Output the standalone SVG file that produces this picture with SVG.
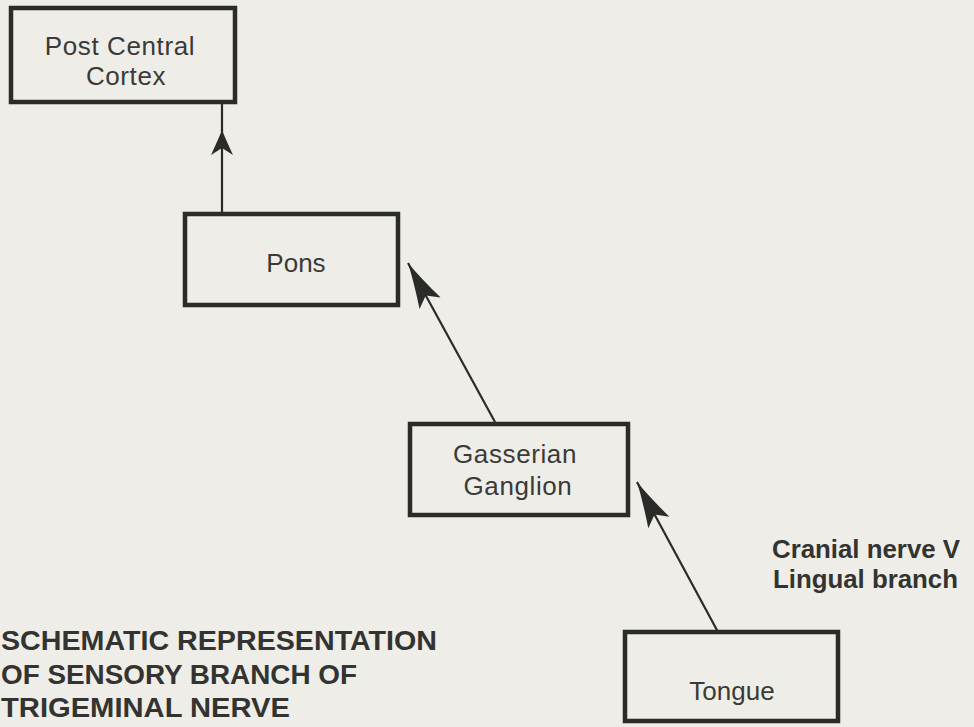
<svg xmlns="http://www.w3.org/2000/svg" width="974" height="727" viewBox="0 0 974 727">
<defs>
<style>
.box{fill:none;stroke:#2b2b2a;stroke-width:4.5}
.lbl{font-family:"Liberation Sans",Arial,sans-serif;font-size:26px;fill:#3a3a38;text-anchor:middle}
.bold{font-family:"Liberation Sans",Arial,sans-serif;font-weight:bold;fill:#333331}
.conn{stroke:#2b2b2a;stroke-width:2.2;fill:none}
</style>
<marker id="headLong" viewBox="-50 -15 55 30" markerWidth="55" markerHeight="30" refX="0" refY="0" orient="auto" markerUnits="userSpaceOnUse">
<path d="M0,0 Q-20,4 -46,12 L-37,0 L-46,-12 Q-20,-4 0,0 Z" fill="#2b2b2a"/>
</marker>
<marker id="headShort" viewBox="-30 -15 35 30" markerWidth="35" markerHeight="30" refX="0" refY="0" orient="auto" markerUnits="userSpaceOnUse">
<path d="M0,0 Q-10,4 -25,11 L-18,0 L-25,-11 Q-10,-4 0,0 Z" fill="#2b2b2a"/>
</marker>
</defs>
<rect width="974" height="727" fill="#eeede7"/>
<g id="connectors">
<path class="conn" d="M222,212 L222,130" marker-end="url(#headShort)"/>
<path class="conn" d="M222,131 L222,104"/>
<path class="conn" d="M495,422 L408,263" marker-end="url(#headLong)"/>
<path class="conn" d="M718,632 L637,482" marker-end="url(#headLong)"/>
</g>
<g id="cortex">
<rect class="box" x="11" y="8" width="224" height="94"/>
<text class="lbl" x="120" y="55" letter-spacing="0.6">Post Central</text>
<text class="lbl" x="126" y="85" letter-spacing="0.6">Cortex</text>
</g>
<g id="pons">
<rect class="box" x="185" y="214" width="213" height="91"/>
<text class="lbl" x="296" y="272">Pons</text>
</g>
<g id="gasserian">
<rect class="box" x="410" y="424" width="218" height="91"/>
<text class="lbl" x="515" y="463" letter-spacing="0.6">Gasserian</text>
<text class="lbl" x="518" y="495" letter-spacing="0.6">Ganglion</text>
</g>
<g id="tongue">
<rect class="box" x="625" y="632" width="213" height="89"/>
<text class="lbl" x="732" y="700">Tongue</text>
</g>
<g id="nerve-label">
<text class="bold" x="772" y="558" font-size="25" textLength="188" lengthAdjust="spacingAndGlyphs">Cranial nerve V</text>
<text class="bold" x="773" y="588" font-size="25" textLength="185" lengthAdjust="spacingAndGlyphs">Lingual branch</text>
</g>
<g id="title">
<text class="bold" x="1" y="650" font-size="27" textLength="436" lengthAdjust="spacingAndGlyphs">SCHEMATIC REPRESENTATION</text>
<text class="bold" x="1" y="684" font-size="27" textLength="356" lengthAdjust="spacingAndGlyphs">OF SENSORY BRANCH OF</text>
<text class="bold" x="1" y="717" font-size="27" textLength="289" lengthAdjust="spacingAndGlyphs">TRIGEMINAL NERVE</text>
</g>
</svg>
